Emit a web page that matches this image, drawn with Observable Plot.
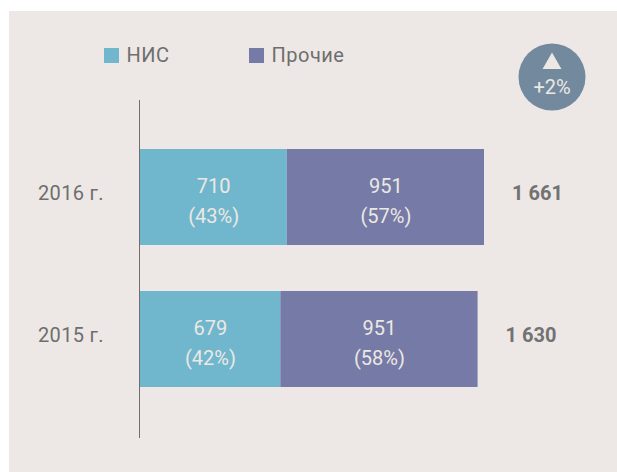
<!DOCTYPE html>
<html>
<head>
<meta charset="utf-8">
<script src="https://cdn.jsdelivr.net/npm/d3@7"></script>
<script src="https://cdn.jsdelivr.net/npm/@observablehq/plot@0.6"></script>
<style>
html,body{margin:0;padding:0;background:#fff;font-family:Roboto,sans-serif;}
#page{position:relative;width:617px;height:472px;overflow:hidden;}
#bg{position:absolute;left:9px;top:11px;right:0;bottom:0;background:#ede8e5;}
#chart{position:absolute;left:0;top:0;}
#chart svg{display:block;}
#chart svg g[aria-label="y-axis tick label"] text{letter-spacing:.35px;}
.legend{position:absolute;top:48px;height:15px;line-height:15px;color:#6e6e6e;font-size:20px;letter-spacing:.5px;white-space:nowrap;}
.legend i{position:absolute;left:0;top:0;width:15px;height:15px;}
.legend span{position:absolute;left:22.5px;top:0;}
</style>
</head>
<body>
<div id="page"><div id="bg"></div><div id="chart"></div>
<div class="legend" style="left:104px"><i style="background:#70b7ce"></i><span>НИС</span></div>
<div class="legend" style="left:249px"><i style="background:#767aa6"></i><span>Прочие</span></div>
</div>
<script>
const years = ["2016 г.", "2015 г."];
const nisValues = [710, 679];
const otherValues = [951, 951];
const nisShares = ["(43%)", "(42%)"];
const otherShares = ["(57%)", "(58%)"];
const totals = ["1 661", "1 630"];
const totalValues = [1661, 1630];
const seriesNames = ["НИС", "Прочие"];
const seriesColors = ["#70b7ce", "#767aa6"];
const badgeText = ["+2%"];

const rows = [];
years.forEach((year, i) => {
  rows.push({year, series: seriesNames[0], value: nisValues[i], share: nisShares[i]});
  rows.push({year, series: seriesNames[1], value: otherValues[i], share: otherShares[i]});
});
const totalRows = years.map((year, i) => ({year, total: totalValues[i], label: totals[i]}));
const stack = (o) => Plot.stackX({x: "value", y: "year", z: "series", order: null, ...o});
const light = "#ece8e3";

const chart = Plot.plot({
  width: 617, height: 472,
  marginLeft: 139.5, marginRight: 133, marginTop: 100, marginBottom: 34,
  style: {background: "transparent", fontFamily: "Roboto, sans-serif"},
  x: {domain: [0, 1661], range: [139.5, 484], axis: null},
  y: {domain: years, range: [126, 410], paddingInner: 46 / 142, paddingOuter: 23 / 142, label: null},
  color: {domain: seriesNames, range: seriesColors},
  marks: [
    Plot.axisY({anchor: "left", tickSize: 0, tickPadding: 36, label: null, fontSize: 20, dy: -4, fill: "#6e6e6e", stroke: null}),
    Plot.barX(rows, stack({fill: "series"})),
    Plot.ruleX([0], {stroke: "#6f6f6f", strokeWidth: 1, dx: -0.5}),
    Plot.text(rows, stack({text: d => String(d.value), fill: light, fontSize: 20, dy: -11, lineAnchor: "middle"})),
    Plot.text(rows, stack({text: "share", fill: light, fontSize: 20, dy: 19, lineAnchor: "middle"})),
    Plot.text(totalRows, {x: "total", y: "year", text: "label", textAnchor: "start", dx: 27.5, dy: -4, fontSize: 20, fontWeight: 700, fill: "#727272", lineAnchor: "middle"}),
    Plot.dot(badgeText, {frameAnchor: "top-left", dx: 551.5 - 139.5, dy: 76.5 - 100, r: 33.5, fill: "#73899e", stroke: null}),
    Plot.dot(badgeText, {frameAnchor: "top-left", dx: 551.5 - 139.5, dy: 63 - 100, r: 7, symbol: "triangle", fill: light, stroke: null}),
    Plot.text(badgeText, {frameAnchor: "top-left", dx: 551.5 - 139.5, dy: 87 - 100, fontSize: 20, textAnchor: "middle", fill: light, lineAnchor: "middle"})
  ]
});
document.getElementById("chart").appendChild(chart);
</script>
</body>
</html>
